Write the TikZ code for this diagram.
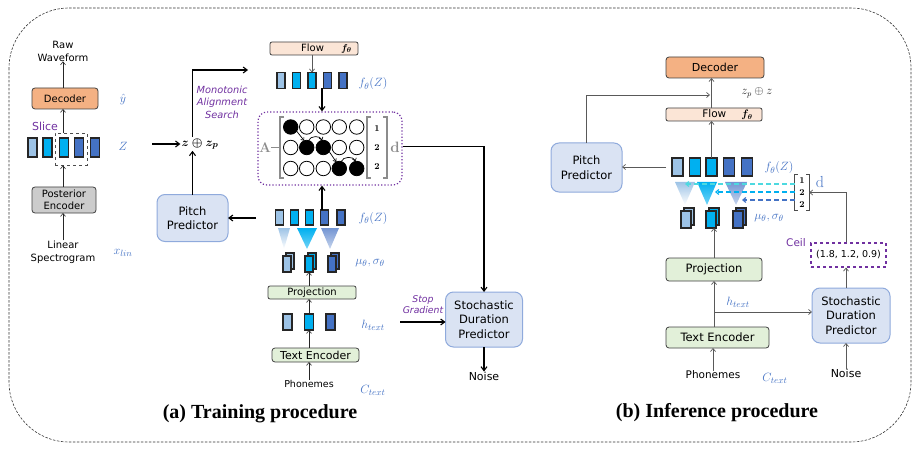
\documentclass[tikz,border=0pt]{standalone}
\usepackage{fontspec}
\usepackage{amsmath}
\usetikzlibrary{arrows.meta,calc}
\newfontfamily\cfont{DejaVu Sans}
\newfontfamily\tfont{Liberation Serif}
\definecolor{lb}{HTML}{9DC3E6}
\definecolor{cy}{HTML}{00B0F0}
\definecolor{db}{HTML}{4472C4}
\definecolor{mb}{HTML}{4472C4}
\definecolor{pu}{HTML}{7030A0}
\definecolor{orng}{HTML}{F4B183}
\definecolor{peach}{HTML}{FBE5D6}
\definecolor{grn}{HTML}{E2F0D9}
\definecolor{pbl}{HTML}{DAE3F3}
\definecolor{pbd}{HTML}{8FAADC}
\definecolor{gr}{HTML}{595959}
\definecolor{tq}{HTML}{4DD9E0}
\begin{document}
\begin{tikzpicture}[x=1pt,y=-1pt,
  tbox/.style={draw=black!75, rounded corners=3pt, line width=0.8pt, inner sep=0pt, outer sep=0pt, align=center, font=\cfont\fontsize{10}{11.5}\selectfont},
  bar/.style={draw=black!85, line width=1.1pt, inner sep=0pt, outer sep=0pt, minimum width=8pt, minimum height=16pt},
  stk/.style={draw=black!85, line width=1.1pt, inner sep=0pt, outer sep=0pt, minimum width=8pt, minimum height=16pt},
  predbox/.style={draw=pbd, fill=pbl, line width=1pt, rounded corners=8pt, align=center, inner sep=0pt, outer sep=0pt, font=\cfont\fontsize{11.5}{14.5}\selectfont},
  mlab/.style={text=mb, font=\fontsize{12.5}{13}\selectfont, inner sep=0pt},
  plab/.style={text=pu, font=\cfont\fontsize{10.5}{12}\selectfont, align=center, inner sep=0pt},
  pilab/.style={text=pu, font=\cfont\itshape\fontsize{9.8}{12.5}\selectfont, align=center, inner sep=0pt},
  txt/.style={font=\cfont\fontsize{10}{13}\selectfont, align=center, inner sep=0pt},
  arr/.style={-{Straight Barb[length=3pt,width=5pt]}, line width=0.6pt, draw=black!85},
  garr/.style={-{Straight Barb[length=3pt,width=5pt]}, line width=0.7pt, draw=gr},
  tarr/.style={-{Straight Barb[length=4pt,width=6pt]}, line width=1.1pt, draw=black},
  marr/.style={-{Straight Barb[length=2.5pt,width=4pt]}, line width=0.7pt, draw=black},
  dasharr/.style={-{Straight Barb[length=3pt,width=5pt]}, line width=1.2pt, dash pattern=on 5pt off 3pt},
  circ/.style={circle, draw=black, line width=0.8pt, minimum size=14.5pt, inner sep=0pt, outer sep=0pt, fill=white},
  fcirc/.style={circ, fill=black},
  brk/.style={line width=0.9pt, draw=black!70},
  ttl/.style={font=\tfont\bfseries\fontsize{20}{21}\selectfont, inner sep=0pt}
]
\useasboundingbox (0,0) rectangle (920,449);
\draw[dash pattern=on 2.5pt off 1.5pt, line width=0.6pt, black!80, rounded corners=60pt] (9,8) rectangle (911,442);

% ---------------- left column ----------------
\node[txt] (raw) at (63,51) {Raw\\Waveform};
\node[tbox, fill=orng, minimum width=66pt, minimum height=21pt] (dec1) at (65,98.5) {Decoder};
\node[mlab] (yhat) at (123,100) {$\hat{y}$};
\node[plab, font=\cfont\fontsize{11}{12}\selectfont] (slicelab) at (45,126) {Slice};
\node[bar, fill=lb, minimum width=9pt, minimum height=19pt] (zb1) at (32.5,147.5) {};
\node[bar, fill=cy, minimum width=9pt, minimum height=19pt] (zb2) at (47.5,147.5) {};
\node[bar, fill=cy, minimum width=9pt, minimum height=19pt] (zb3) at (64,147.5) {};
\node[bar, fill=db, minimum width=9pt, minimum height=19pt] (zb4) at (79,147.5) {};
\node[bar, fill=db, minimum width=9pt, minimum height=19pt] (zb5) at (95,147.5) {};
\node[draw=black!70, dashed, line width=0.8pt, minimum width=32pt, minimum height=32pt, inner sep=0pt] (slice) at (71,149) {};
\node[mlab] (zlab) at (123,146) {$Z$};
\node[tbox, fill=black!20, minimum width=64pt, minimum height=26pt] (pe) at (64,200) {Posterior\\Encoder};
\node[txt] (lin) at (63,252) {Linear\\Spectrogram};
\node[mlab] (xlin) at (123,253) {$x_{lin}$};
\draw[arr] (lin.north) -- (lin.north |- pe.south);
\draw[arr] (lin.north |- pe.north) -- (lin.north |- slice.south);
\draw[arr] (lin.north |- slice.north) -- (lin.north |- dec1.south);
\draw[arr] (lin.north |- dec1.north) -- (raw.south);

% ---------------- training middle ----------------
\node[font=\fontsize{13}{14}\selectfont, inner sep=1pt] (zsum) at (200,144) {$\boldsymbol{z\oplus z_p}$};
\coordinate (zin) at (152,144);
\draw[tarr] (zin) -- (zsum.west);
\node[predbox, minimum width=71pt, minimum height=47pt] (pp1) at (192.5,218) {Pitch\\Predictor};
\draw[tarr] (pp1.north) -- (pp1.north |- zsum.south);
\coordinate (mas) at (248,70);
\draw[tarr] (pp1.north |- zsum.north) |- (mas);
\node[pilab] (maslab) at (222,102) {Monotonic\\Alignment\\Search};

\node[tbox, fill=peach, minimum width=88pt, minimum height=13pt, rounded corners=2pt] (flow1) at (314,48.5) {\hspace*{25pt}Flow\hspace{17pt}$\boldsymbol{f_\theta}$};
\node[bar, fill=lb] (ub1) at (281,80.5) {};
\node[bar, fill=cy] (ub2) at (296.5,80.5) {};
\node[bar, fill=cy] (ub3) at (312,80.5) {};
\node[bar, fill=db] (ub4) at (327.5,80.5) {};
\node[bar, fill=db] (ub5) at (343,80.5) {};
\draw[garr] (flow1.south -| ub3.north) -- (ub3.north);
\node[mlab] (fz1) at (373,84) {$f_\theta(Z)$};

\node[draw=pu, dotted, line width=1.2pt, rounded corners=9pt, minimum width=144pt, minimum height=73pt, inner sep=0pt] (mat) at (330,148.5) {};
\draw[tarr] ([xshift=-8pt]mat.north |- ub3.south) -- ([xshift=-8pt]mat.north);
\node[font=\bfseries\fontsize{14}{14}\selectfont, text=black!45, inner sep=0pt] (Alab) at (265,148) {A};
\draw[black!45, line width=1pt] (Alab.east) -- (279,148);
\draw[black!45, line width=1.2pt] (284,117) -| (280,178) -- (284,178);
\draw[black!45, line width=1.2pt] (371,117) -| (367,178) -- (371,178);
\draw[black!45, line width=1.2pt] (383,117) -| (387,178) -- (383,178);
\node[font=\bfseries\fontsize{9}{9}\selectfont, inner sep=0pt] (d1) at (377,129) {1};
\node[font=\bfseries\fontsize{9}{9}\selectfont, inner sep=0pt] (d2) at (377,148) {2};
\node[font=\bfseries\fontsize{9}{9}\selectfont, inner sep=0pt] (d3) at (377,167) {2};
\node[font=\bfseries\fontsize{15}{15}\selectfont, text=black!45, inner sep=0pt] (dlab) at (395,147) {d};

\node[fcirc] (c11) at (290.7,127) {};
\node[circ] (c12) at (306.7,127) {};
\node[circ] (c13) at (323.3,127) {};
\node[circ] (c14) at (339.3,127) {};
\node[circ] (c15) at (356.7,127) {};
\node[circ] (c21) at (290.7,147.5) {};
\node[fcirc] (c22) at (306.7,147.5) {};
\node[fcirc] (c23) at (323.3,147.5) {};
\node[circ] (c24) at (339.3,147.5) {};
\node[circ] (c25) at (356.7,147.5) {};
\node[circ] (c31) at (290.7,168.5) {};
\node[circ] (c32) at (306.7,168.5) {};
\node[circ] (c33) at (323.3,168.5) {};
\node[fcirc] (c34) at (339.3,168.5) {};
\node[fcirc] (c35) at (356.7,168.5) {};
\draw[marr] (c11.-35) -- (c22.110);
\draw[marr] (c22.75) to[out=70,in=110] (c23.100);
\draw[marr] (c23.-35) -- (c34.115);
\draw[marr] (c34.75) to[out=70,in=110] (c35.100);

\node[predbox, minimum width=77pt, minimum height=55pt] (sdp1) at (484,319.5) {Stochastic\\Duration\\Predictor};
\draw[tarr] ([yshift=2pt]mat.east) -| (sdp1.north);
\node[txt, font=\cfont\fontsize{11}{12}\selectfont] (noise1) at (484,376) {Noise};
\draw[tarr] (sdp1.south) -- (noise1.north);
\coordinate (sg) at (400,322);
\draw[tarr] (sg) -- (sg -| sdp1.west);
\node[pilab, font=\cfont\itshape\fontsize{9.3}{11}\selectfont] (sglab) at (423,305) {Stop\\Gradient};

\node[bar, fill=lb, minimum height=15pt] (lb1) at (279.5,217.5) {};
\node[bar, fill=cy, minimum height=15pt] (lb2) at (294.5,217.5) {};
\node[bar, fill=cy, minimum height=15pt] (lb3) at (309.5,217.5) {};
\node[bar, fill=db, minimum height=15pt] (lb4) at (324.5,217.5) {};
\node[bar, fill=db, minimum height=15pt] (lb5) at (341,217.5) {};
\draw[tarr] ([xshift=-8pt]mat.south |- lb3.north) -- ([xshift=-8pt]mat.south);
\coordinate (ppin) at (256,218);
\draw[tarr] (ppin) -- (ppin -| pp1.east);
\node[mlab] (fz2) at (373,218) {$f_\theta(Z)$};

\shade[top color=lb, bottom color=white] (278,228) -- (290,228) -- (284,249) -- cycle;
\shade[top color=cy, bottom color=cy!55] (297,228) -- (317,228) -- (307,249) -- cycle;
\shade[top color=db!75, bottom color=db!30] (321,228) -- (339,228) -- (330,249) -- cycle;

\node[stk, fill=lb] (st1b) at (290,261) {};
\node[stk, fill=lb] (st1) at (287,264) {};
\node[stk, fill=cy] (st2b) at (312,261) {};
\node[stk, fill=cy] (st2) at (309,264) {};
\node[stk, fill=db] (st3b) at (335,261) {};
\node[stk, fill=db] (st3) at (332,264) {};
\node[mlab] (ms1) at (370,263) {$\mu_\theta,\sigma_\theta$};

\node[tbox, fill=grn, minimum width=88pt, minimum height=13pt, rounded corners=2pt, font=\cfont\fontsize{10}{11}\selectfont] (pr1) at (312,292.5) {Projection};
\node[bar, fill=lb, minimum width=9pt] (hb1) at (287.5,322) {};
\node[bar, fill=cy, minimum width=9pt] (hb2) at (309,322) {};
\node[bar, fill=db, minimum width=9pt] (hb3) at (330.5,322) {};
\node[tbox, fill=grn, minimum width=87pt, minimum height=14pt, font=\cfont\fontsize{11}{12}\selectfont] (te1) at (315.5,355) {Text Encoder};
\node[txt, font=\cfont\fontsize{9.5}{11}\selectfont] (ph1) at (309,384) {Phonemes};
\draw[arr] (ph1.north) -- (ph1.north |- te1.south);
\draw[arr] (te1.north -| hb2) -- (hb2.south);
\draw[arr] (hb2.north) -- (hb2.north |- pr1.south);
\draw[arr] (pr1.north -| hb2) -- (st2.south);
\node[mlab] (ht1) at (373,325) {$h_{text}$};
\node[mlab] (ct1) at (373,390) {$C_{text}$};

% ---------------- inference ----------------
\node[tbox, fill=orng, minimum width=98pt, minimum height=21pt, font=\cfont\fontsize{11}{12}\selectfont] (dec2) at (715,67.5) {Decoder};
\node[tbox, fill=peach, minimum width=96pt, minimum height=13pt, rounded corners=2pt, font=\cfont\fontsize{10.5}{12}\selectfont] (flow2) at (714,114.5) {\hspace*{27pt}Flow\hspace{15pt}$\boldsymbol{f_\theta}$};
\node[text=black!85, font=\fontsize{12}{13}\selectfont, inner sep=0pt] (zpz) at (757,93) {$z_p\oplus z$};
\node[predbox, minimum width=71pt, minimum height=49pt] (pp2) at (586.5,167.5) {Pitch\\Predictor};
\node[bar, fill=lb, minimum width=11pt, minimum height=18pt] (rb1) at (677.5,167) {};
\node[bar, fill=cy, minimum width=11pt, minimum height=18pt] (rb2) at (695,167) {};
\node[bar, fill=cy, minimum width=11pt, minimum height=18pt] (rb3) at (711.5,167) {};
\node[bar, fill=db, minimum width=11pt, minimum height=18pt] (rb4) at (729,167) {};
\node[bar, fill=db, minimum width=11pt, minimum height=18pt] (rb5) at (747,167) {};
\node[mlab] (fz3) at (779,168) {$f_\theta(Z)$};
\coordinate (j1) at (710,95);
\draw[garr] (pp2.north) |- (j1);
\draw[garr] (flow2.north -| rb3) -- (dec2.south -| rb3);
\draw[garr] (rb3.north) -- (rb3.north |- flow2.south);
\draw[garr] ([xshift=-6pt]rb1.west) -- (rb1.west -| pp2.east);

\shade[top color=lb, bottom color=white] (675,182) -- (695,182) -- (685,205) -- cycle;
\shade[top color=cy, bottom color=cy!55] (697,182) -- (717,182) -- (707,205) -- cycle;
\shade[top color=db!75, bottom color=db!30] (725,182) -- (747,182) -- (736,205) -- cycle;

\node[stk, fill=lb, minimum width=10pt, minimum height=17pt] (rs1b) at (689,216.5) {};
\node[stk, fill=lb, minimum width=10pt, minimum height=17pt] (rs1) at (686,219.5) {};
\node[stk, fill=cy, minimum width=10pt, minimum height=17pt] (rs2b) at (714,216.5) {};
\node[stk, fill=cy, minimum width=10pt, minimum height=17pt] (rs2) at (711,219.5) {};
\node[stk, fill=db, minimum width=10pt, minimum height=17pt] (rs3b) at (741,216.5) {};
\node[stk, fill=db, minimum width=10pt, minimum height=17pt] (rs3) at (738,219.5) {};
\node[mlab] (ms2) at (769,218) {$\mu_\theta,\sigma_\theta$};

\node[minimum width=14pt, minimum height=35pt, inner sep=0pt] (br2) at (802,192.5) {};
\draw[brk] ([xshift=3pt]br2.north west) -- (br2.north west) -- (br2.south west) -- ([xshift=3pt]br2.south west);
\draw[brk] ([xshift=-3pt]br2.north east) -- (br2.north east) -- (br2.south east) -- ([xshift=-3pt]br2.south east);
\node[font=\bfseries\fontsize{9}{9}\selectfont, inner sep=0pt] (e1) at (802,181) {1};
\node[font=\bfseries\fontsize{9}{9}\selectfont, inner sep=0pt] (e2) at (802,193) {2};
\node[font=\bfseries\fontsize{9}{9}\selectfont, inner sep=0pt] (e3) at (802,205) {2};
\node[text=db, font=\fontsize{16}{16}\selectfont, inner sep=0pt] (dlab2) at (820,182) {d};
\coordinate (t1c) at (685,184);
\coordinate (t2c) at (715,192);
\coordinate (t3c) at (742,200);
\draw[dasharr, draw=tq] (br2.west |- t1c) -- (t1c);
\draw[dasharr, draw=cy] (br2.west |- t2c) -- (t2c);
\draw[dasharr, draw=db] (br2.west |- t3c) -- (t3c);

\node[tbox, fill=grn, minimum width=96pt, minimum height=23pt, font=\cfont\fontsize{11.5}{12}\selectfont] (pr2) at (714,269.5) {Projection};
\node[tbox, fill=grn, minimum width=103pt, minimum height=21pt, font=\cfont\fontsize{11.5}{12}\selectfont] (te2) at (717.5,337.5) {Text Encoder};
\node[txt, font=\cfont\fontsize{10.5}{12}\selectfont] (ph2) at (713,375) {Phonemes};
\draw[garr] (pr2.north) -- (pr2.north |- rs2.south);
\draw[garr] (ph2.north) -- (ph2.north |- te2.south);
\draw[garr] (te2.north -| pr2) -- (pr2.south);
\node[predbox, minimum width=78pt, minimum height=55pt] (sdp2) at (851,315.5) {Stochastic\\Duration\\Predictor};
\coordinate (hbr) at (714,312);
\draw[garr] (hbr) -- (hbr -| sdp2.west);
\node[mlab] (ht2) at (738,302) {$h_{text}$};
\node[mlab] (ct2) at (775,378) {$C_{text}$};
\node[draw=pu, dashed, line width=1.2pt, minimum width=75pt, minimum height=24pt, inner sep=0pt, font=\cfont\fontsize{9.5}{10}\selectfont] (ceil) at (848.5,255) {(1.8, 1.2, 0.9)};
\node[plab] (ceillab) at (796,243) {Ceil};
\node[txt, font=\cfont\fontsize{11}{12}\selectfont] (noise2) at (846,373) {Noise};
\draw[garr] (noise2.north) -- (noise2.north |- sdp2.south);
\draw[garr] (sdp2.north -| noise2) -- (ceil.south -| noise2);
\draw[garr] (ceil.north -| noise2) |- (br2.east);

% ---------------- titles ----------------
\node[ttl] (ta) at (260,414) {(a) Training procedure};
\node[ttl] (tb) at (717,413) {(b) Inference procedure};
\end{tikzpicture}
\end{document}
